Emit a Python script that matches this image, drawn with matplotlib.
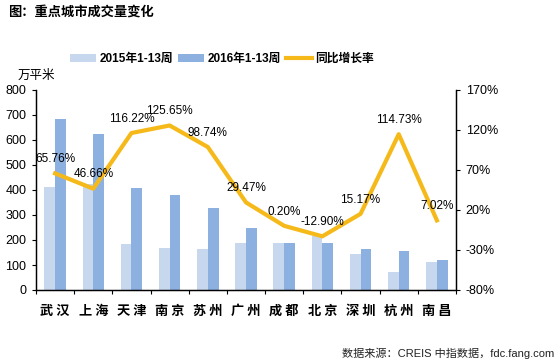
import numpy as np
import matplotlib
matplotlib.use("Agg")
import matplotlib.pyplot as plt

plt.rcParams['font.family'] = ['Liberation Sans', 'Noto Sans CJK SC', 'DejaVu Sans']

# data
cities = ['武汉', '上海', '天津', '南京', '苏州', '广州', '成都', '北京', '深圳', '杭州', '南昌']
vol_2015 = [413, 423, 184, 169, 164, 189, 189, 217, 144, 73, 111]
vol_2016 = [683, 624, 408, 379, 329, 247, 189, 189, 166, 157, 119]
growth = [65.76, 46.66, 116.22, 125.65, 98.74, 29.47, 0.20, -12.90, 15.17, 114.73, 7.02]

c2015 = '#c6d7ee'
c2016 = '#8cb0e0'
cline = '#f6b91a'

fig = plt.figure(figsize=(5.59, 3.64), dpi=100)
ax = fig.add_axes([36 / 559, 1 - 290 / 364, 420 / 559, 200 / 364])
ax2 = ax.twinx()

x = np.arange(len(cities))
w = 0.28
ax.bar(x - w / 2, vol_2015, w, color=c2015, label='2015年1-13周', zorder=1)
ax.bar(x + w / 2, vol_2016, w, color=c2016, label='2016年1-13周', zorder=1)
ax2.plot(x, growth, color=cline, lw=3, label='同比增长率')

ax.set_xlim(-0.5, len(cities) - 0.5)
ax.set_ylim(0, 800)
ax.set_yticks(range(0, 801, 100))
ax2.set_ylim(-80, 170)
ax2.set_yticks(range(-80, 171, 50))
ax2.set_yticklabels([f'{v}%' for v in range(-80, 171, 50)])

# category ticks between groups, labels at centres
ax.set_xticks(np.arange(-0.5, len(cities), 1))
ax.set_xticklabels([])
ax.set_xticks(x, minor=True)
ax.set_xticklabels([c[0] + ' ' + c[1] for c in cities], minor=True,
                   family=['Noto Sans CJK SC'], fontweight='bold', fontsize=9.5)
ax.tick_params(axis='x', which='minor', length=0, pad=10)
ax.tick_params(axis='x', which='major', length=3, direction='out', width=0.8)
ax.tick_params(axis='y', length=3, labelsize=9, pad=4)
ax2.tick_params(axis='y', length=3, labelsize=9, pad=4)

for a in (ax, ax2):
    a.spines['top'].set_visible(False)
    for s in ('left', 'right', 'bottom'):
        a.spines[s].set_linewidth(0.9)

for xi, g in zip(x, growth):
    ax2.annotate(f'{g:.2f}%', (xi, g), xytext=(0, 6), textcoords='offset points',
                 ha='center', va='bottom', fontsize=8.5, color='black')

h1, l1 = ax.get_legend_handles_labels()
h2, l2 = ax2.get_legend_handles_labels()
fig.legend(h1 + h2, l1 + l2, loc='center', bbox_to_anchor=(222 / 559, 1 - 59 / 364), ncol=3,
           frameon=False, prop={'family': ['Liberation Sans', 'Noto Sans CJK SC'], 'weight': 'bold', 'size': 8.5},
           handlelength=2.2, handleheight=0.6, handletextpad=0.3, columnspacing=0.4)

fig.text(18 / 559, 1 - 75 / 364, '万平米', family=['Noto Sans CJK SC'], fontsize=9, va='center')
fig.text(8 / 559, 1 - 12 / 364, '图：重点城市成交量变化', family=['Noto Sans CJK SC'],
         fontweight='bold', fontsize=9.5, va='center')
fig.text(554 / 559, 1 - 353 / 364, '数据来源：CREIS 中指数据，fdc.fang.com',
         family=['Liberation Sans', 'Noto Sans CJK SC'], fontsize=8, ha='right', va='center', color='#222222')

fig.savefig('out.png', dpi=100)
